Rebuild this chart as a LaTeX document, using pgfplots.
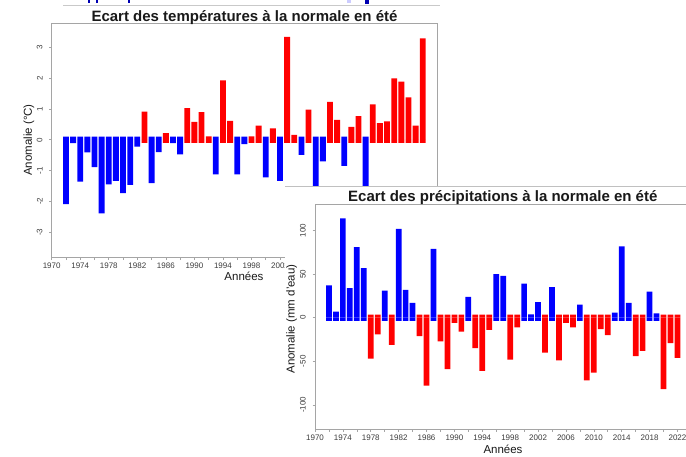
\documentclass[border=0pt]{standalone}
\usepackage{pgfplots}
\pgfplotsset{compat=1.18}
\usepackage{pgfplotstable}
\usepackage{fontspec}
\setmainfont{Liberation Sans}
\definecolor{bblue}{RGB}{0,0,255}
\definecolor{rred}{RGB}{255,0,0}
\definecolor{axgray}{RGB}{165,165,165}
\definecolor{txt}{RGB}{60,60,60}
\definecolor{ttl}{RGB}{25,25,25}

% Summer temperature anomaly (degC)
\pgfplotstableread{
year v
1972 -2.09
1973 -0.11
1974 -1.36
1975 -0.41
1976 -0.89
1977 -2.39
1978 -1.45
1979 -1.33
1980 -1.73
1981 -1.46
1982 -0.22
1984 -1.41
1985 -0.40
1987 -0.11
1988 -0.47
1993 -1.12
1996 -1.12
1997 -0.14
2000 -1.22
2002 -1.33
2005 -0.49
2007 -1.55
2008 -0.70
2011 -0.85
2014 -1.60
}\tempneg
\pgfplotstableread{
year v
1983 0.91
1986 0.22
1989 1.03
1990 0.58
1991 0.90
1992 0.11
1994 1.93
1995 0.61
1998 0.11
1999 0.46
2001 0.37
2003 3.34
2004 0.16
2006 0.98
2009 1.23
2010 0.65
2012 0.42
2013 0.77
2015 1.15
2016 0.54
2017 0.60
2018 1.99
2019 1.89
2020 1.38
2021 0.46
2022 3.29
}\temppos

% Summer precipitation anomaly (mm)
\pgfplotstableread{
year v
1972 37
1973 7
1974 114
1975 34
1976 81
1977 57
1980 31
1982 102
1983 32
1984 17
1987 79
1992 24
1996 50
1997 48
2000 39
2001 4
2002 18
2004 35
2008 15
2013 6
2014 82
2015 17
2018 30
2019 5
}\precpos
\pgfplotstableread{
year v
1978 -47
1979 -19
1981 -31
1985 -21
1986 -78
1988 -27
1989 -59
1990 -6
1991 -16
1993 -35
1994 -61
1995 -14
1998 -48
1999 -11
2003 -40
2005 -49
2006 -6
2007 -11
2009 -72
2010 -63
2011 -13
2012 -20
2016 -44
2017 -38
2020 -82
2021 -29
2022 -46
}\precneg

\pgfplotsset{
  rchart/.style={
    scale only axis,
    xmin=1970, xmax=2024,
    axis line style={draw=axgray, line width=0.6pt},
    tick style={draw=axgray, line width=0.6pt},
    tick align=outside,
    major tick length=2.5pt, minor tick length=2.5pt,
    tick pos=left,
    xtick={1970,1974,...,2022},
    minor xtick={1972,1976,...,2020},
    /pgf/number format/1000 sep={},
    /pgf/number format/assume math mode=true,
    tick label style={font=\fontsize{8}{9}\selectfont, text=txt, inner sep=0pt},
    xticklabel style={anchor=north},
    yticklabel style={rotate=90, anchor=south},
    xticklabel shift=2.5pt,
    yticklabel shift=6.5pt,
  },
  bbar/.style={ybar, bar width=0.82, bar shift=0pt, fill=bblue, draw=none},
  rbar/.style={ybar, bar width=0.82, bar shift=0pt, fill=rred, draw=none},
}

\begin{document}
\begin{tikzpicture}
\useasboundingbox (0pt,0pt) rectangle (686pt,456pt);
\clip (0pt,0pt) rectangle (686pt,456pt);

% stray fragments at the top edge
\draw[axgray!60, line width=0.5pt] (63pt,451pt) -- (440pt,451pt);
\fill[blue!70!black] (88pt,453pt) rectangle (90pt,456pt);
\fill[blue!70!black] (96pt,453pt) rectangle (98pt,456pt);
\fill[blue!70!black] (128pt,453pt) rectangle (130pt,456pt);
\fill[blue!20] (347pt,453pt) rectangle (351pt,456pt);
\fill[blue!70!black] (365pt,452pt) rectangle (369pt,456pt);

% ---------- temperature chart ----------
\begin{axis}[rchart,
  at={(51.7pt,198.5pt)}, anchor=south west,
  width=385.3pt, height=234.5pt,
  ymin=-3.82, ymax=3.79,
  ytick={-3,-2,-1,0,1,2,3},
]
\addplot[bbar] table[x=year, y=v] {\tempneg};
\addplot[bbar] table[x=year, y expr=0.1] {\tempneg};
\addplot[rbar] table[x=year, y=v] {\temppos};
\addplot[rbar] table[x=year, y expr=-0.1] {\temppos};
\end{axis}
\node[font=\fontsize{15}{18}\selectfont\bfseries, text=ttl, anchor=base] at (244.5pt,434.9pt) {Ecart des températures à la normale en été};
\node[font=\fontsize{11.5}{13}\selectfont, text=ttl, anchor=base] at (244pt,175.2pt) {Années};
\node[font=\fontsize{11.5}{13}\selectfont, text=ttl, rotate=90, anchor=center] at (29pt,316pt) {Anomalie (°C)};

% ---------- overlay panel ----------
\fill[white] (285pt,-2pt) rectangle (690pt,270pt);
\draw[axgray!70, line width=0.5pt] (285pt,270pt) -- (690pt,270pt);

% ---------- precipitation chart ----------
\begin{axis}[rchart,
  at={(315pt,26.7pt)}, anchor=south west,
  width=376.4pt, height=225.3pt,
  ymin=-128, ymax=130.5,
  ytick={-100,-50,0,50,100},
]
\addplot[bbar] table[x=year, y=v] {\precpos};
\addplot[bbar] table[x=year, y expr=-3.5] {\precpos};
\addplot[rbar] table[x=year, y=v] {\precneg};
\addplot[rbar] table[x=year, y expr=3.5] {\precneg};
\end{axis}
\node[font=\fontsize{15}{18}\selectfont\bfseries, text=ttl, anchor=base] at (502.8pt,254.9pt) {Ecart des précipitations à la normale en été};
\node[font=\fontsize{11.5}{13}\selectfont, text=ttl, anchor=base] at (503pt,2.9pt) {Années};
\node[font=\fontsize{11.5}{13}\selectfont, text=ttl, rotate=90, anchor=center] at (291.7pt,137pt) {Anomalie (mm d'eau)};
\end{tikzpicture}
\end{document}
